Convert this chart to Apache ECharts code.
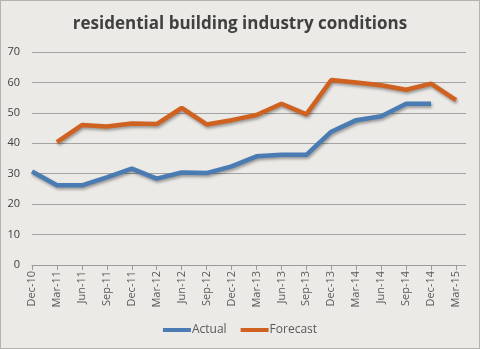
<!DOCTYPE html>
<html><head><meta charset="utf-8">
<script src="https://cdn.jsdelivr.net/npm/echarts@6/dist/echarts.min.js"></script>
<style>html,body{margin:0;padding:0;background:#fff}#c{width:478px;height:347px;border:1px solid #b5b3b0;background:#ECEAE7}</style>
</head><body><div id="c"></div>
<script>
var categories = ['Dec-10','Mar-11','Jun-11','Sep-11','Dec-11','Mar-12','Jun-12','Sep-12','Dec-12','Mar-13','Jun-13','Sep-13','Dec-13','Mar-14','Jun-14','Sep-14','Dec-14','Mar-15'];
var actual = [30.7, 26.2, 26.2, 28.8, 31.7, 28.4, 30.4, 30.2, 32.4, 35.7, 36.2, 36.2, 43.8, 47.6, 48.9, 53.0, 53.0, null];
var forecast = [null, 40.4, 46.0, 45.5, 46.5, 46.3, 51.6, 46.2, 47.6, 49.3, 53.0, 49.5, 60.8, 60.0, 59.1, 57.6, 59.6, 54.2];
var yTicks = [0, 10, 20, 30, 40, 50, 60, 70];

var chart = echarts.init(document.getElementById('c'));
var lineShadow = {shadowBlur: 3, shadowColor: 'rgba(0,0,0,0.35)', shadowOffsetX: 1, shadowOffsetY: 2};
chart.setOption({
  backgroundColor: '#ECEAE7',
  animation: false,
  title: {
    text: 'residential building industry conditions',
    left: 'center', top: 10,
    textStyle: {fontFamily: 'Open Sans', fontWeight: 'bold', fontSize: 17, color: '#404040'}
  },
  legend: {
    bottom: 7, left: 'center', itemWidth: 28, itemHeight: 4, itemGap: 14,
    icon: 'rect',
    textStyle: {fontFamily: 'Open Sans', fontSize: 12, color: '#595959', padding: [0,0,0,-4]},
    data: ['Actual', 'Forecast']
  },
  grid: [
    {left: 31, right: 23, top: 51, bottom: 83, containLabel: false},
    {left: 31, right: 13, top: 51, bottom: 83, containLabel: false}
  ],
  xAxis: [
    {
      type: 'category', data: categories, boundaryGap: false, gridIndex: 0,
      axisLine: {lineStyle: {color: '#9a9a9a'}},
      axisTick: {show: true, alignWithLabel: true, length: 5, lineStyle: {color: '#9a9a9a'}},
      axisLabel: {rotate: 90, interval: 0, fontFamily: 'Open Sans', fontSize: 11, color: '#595959', margin: 6, padding: [7,0,0,0]}
    },
    {type: 'value', gridIndex: 1, show: false, min: 0, max: 1}
  ],
  yAxis: [
    {
      type: 'value', min: 0, max: 70, interval: 10, gridIndex: 0,
      axisLine: {show: false}, axisTick: {show: false},
      splitLine: {show: false},
      axisLabel: {fontFamily: 'Open Sans', fontSize: 11, color: '#404040', margin: 12,
        formatter: function(v){ return yTicks.indexOf(v) >= 0 ? String(v) : ''; }}
    },
    {
      type: 'value', min: 0, max: 70, interval: 10, gridIndex: 1,
      axisLine: {show: false}, axisTick: {show: false}, axisLabel: {show: false},
      splitLine: {show: true, lineStyle: {color: '#a3a3a3', width: 1}}
    }
  ],
  series: [
    {name: 'Actual', type: 'line', data: actual, xAxisIndex: 0, yAxisIndex: 0, z: 5,
      symbol: 'none', connectNulls: false,
      lineStyle: Object.assign({color: '#4a7cb3', width: 4.5}, lineShadow),
      itemStyle: {color: '#4a7cb3'}},
    {name: 'Forecast', type: 'line', data: forecast, xAxisIndex: 0, yAxisIndex: 0, z: 5,
      symbol: 'none', connectNulls: false,
      lineStyle: Object.assign({color: '#cf6221', width: 4.5}, lineShadow),
      itemStyle: {color: '#cf6221'}}
  ]
});
</script></body></html>
